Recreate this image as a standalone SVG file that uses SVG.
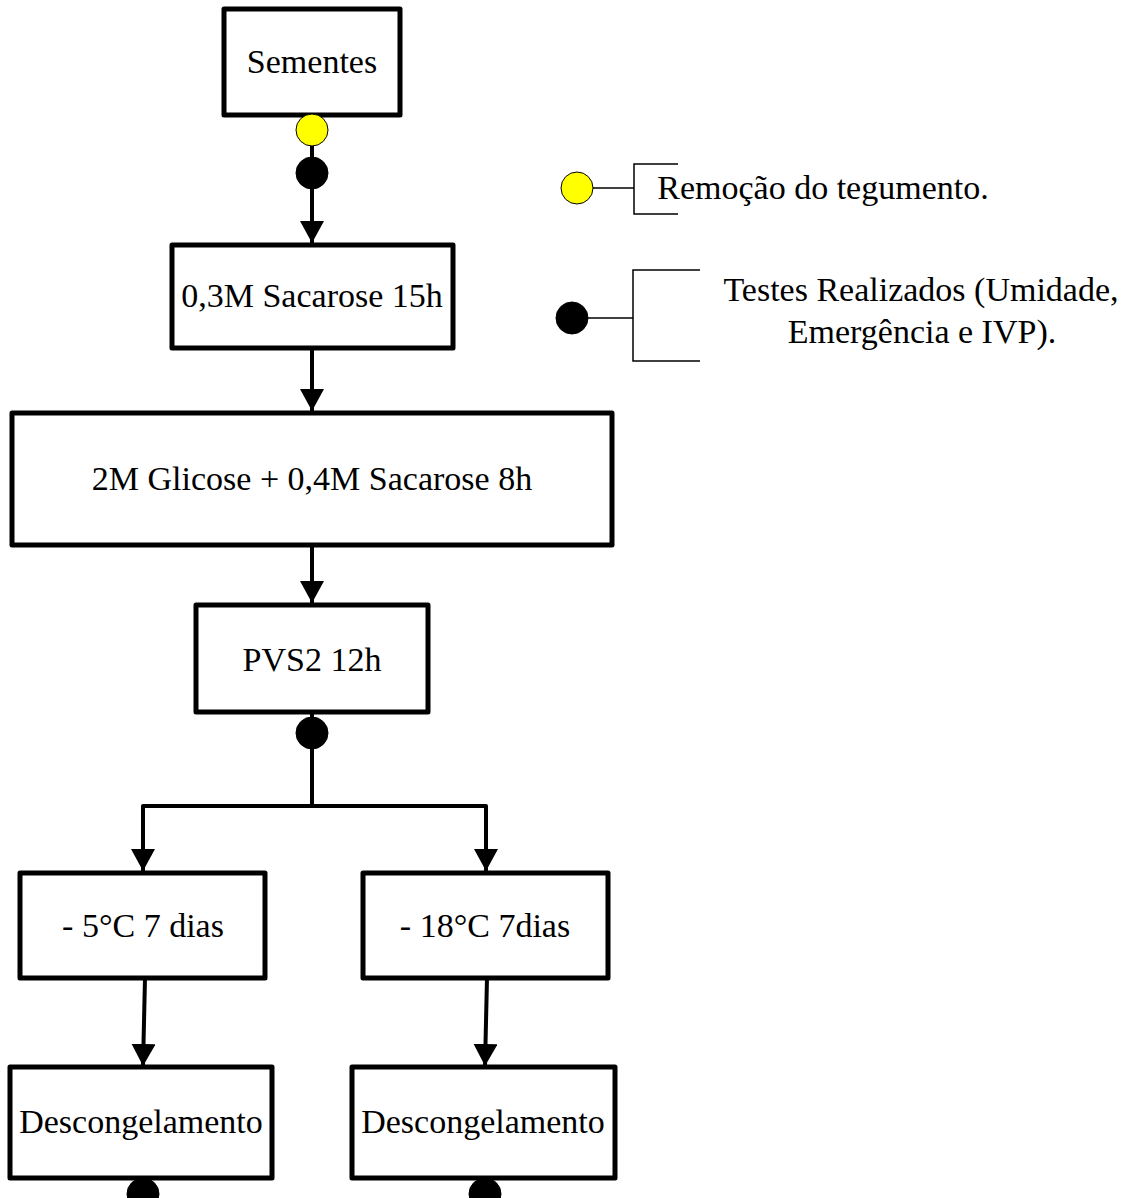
<svg xmlns="http://www.w3.org/2000/svg" width="1126" height="1198" viewBox="0 0 1126 1198">
  <style>
    .box { fill: #ffffff; stroke: #000000; stroke-width: 5; stroke-linejoin: round; }
    .lbl { font-family: "Liberation Serif", "Times New Roman", serif; font-size: 34px; fill: #000000; text-anchor: middle; }
    .edge { fill: none; stroke: #000000; stroke-width: 4; stroke-linejoin: round; }
    .thin { fill: none; stroke: #000000; stroke-width: 1.5; }
    .dot { fill: #000000; stroke: #000000; stroke-width: 1; }
    .ydot { fill: #ffff00; stroke: #000000; stroke-width: 1; }
  </style>
  <defs>
    <marker id="arrow" markerWidth="6" markerHeight="6" refX="5.5" refY="3" orient="auto" markerUnits="strokeWidth">
      <path d="M0,0 L5.5,3 L0,6 Z" fill="#000000"/>
    </marker>
  </defs>
  <rect width="1126" height="1198" fill="#ffffff"/>

  <!-- connectors -->
  <g id="connectors">
    <line class="edge" x1="312" y1="115" x2="312" y2="243" marker-end="url(#arrow)"/>
    <line class="edge" x1="312" y1="348" x2="312" y2="411" marker-end="url(#arrow)"/>
    <line class="edge" x1="312" y1="545" x2="312" y2="603" marker-end="url(#arrow)"/>
    <polyline class="edge" points="312,712 312,806 143,806 143,871" marker-end="url(#arrow)"/>
    <polyline class="edge" points="312,806 486,806 486,871" marker-end="url(#arrow)"/>
    <line class="edge" x1="145" y1="978" x2="143" y2="1066" marker-end="url(#arrow)"/>
    <line class="edge" x1="487" y1="978" x2="485" y2="1066" marker-end="url(#arrow)"/>
  </g>

  <!-- process steps -->
  <g id="sementes">
    <rect class="box" x="224" y="9" width="176" height="106"/>
    <text class="lbl" x="312" y="73">Sementes</text>
  </g>
  <g id="sacarose">
    <rect class="box" x="172" y="245" width="281" height="103"/>
    <text class="lbl" x="312" y="307">0,3M Sacarose 15h</text>
  </g>
  <g id="glicose">
    <rect class="box" x="12" y="413" width="600" height="132"/>
    <text class="lbl" x="312" y="490">2M Glicose + 0,4M Sacarose 8h</text>
  </g>
  <g id="pvs2">
    <rect class="box" x="196" y="605" width="232" height="107"/>
    <text class="lbl" x="312" y="671">PVS2 12h</text>
  </g>
  <g id="menos5">
    <rect class="box" x="20" y="873" width="245" height="105"/>
    <text class="lbl" x="143" y="937">- 5°C 7 dias</text>
  </g>
  <g id="menos18">
    <rect class="box" x="363" y="873" width="245" height="105"/>
    <text class="lbl" x="485" y="937">- 18°C 7dias</text>
  </g>
  <g id="descong1">
    <rect class="box" x="10" y="1067" width="262" height="111"/>
    <text class="lbl" x="141" y="1133">Descongelamento</text>
  </g>
  <g id="descong2">
    <rect class="box" x="352" y="1067" width="263" height="111"/>
    <text class="lbl" x="483" y="1133">Descongelamento</text>
  </g>

  <!-- markers on the flow -->
  <g id="markers">
    <circle class="ydot" cx="312" cy="130" r="16"/>
    <circle class="dot" cx="312" cy="173" r="16"/>
    <circle class="dot" cx="312" cy="733" r="16"/>
    <circle class="dot" cx="143" cy="1194" r="16"/>
    <circle class="dot" cx="485" cy="1194" r="16"/>
  </g>

  <!-- legend -->
  <g id="legend-remocao">
    <circle class="ydot" cx="577" cy="188" r="16"/>
    <line class="thin" x1="593" y1="188" x2="634" y2="188"/>
    <polyline class="thin" points="678,164 634,164 634,214 678,214"/>
    <text class="lbl" x="823" y="199">Remoção do tegumento.</text>
  </g>
  <g id="legend-testes">
    <circle class="dot" cx="572" cy="318" r="16"/>
    <line class="thin" x1="588" y1="318" x2="633" y2="318"/>
    <polyline class="thin" points="700,270 633,270 633,361 700,361"/>
    <text class="lbl" x="921" y="301">Testes Realizados (Umidade,</text>
    <text class="lbl" x="922" y="343">Emergência e IVP).</text>
  </g>
</svg>
